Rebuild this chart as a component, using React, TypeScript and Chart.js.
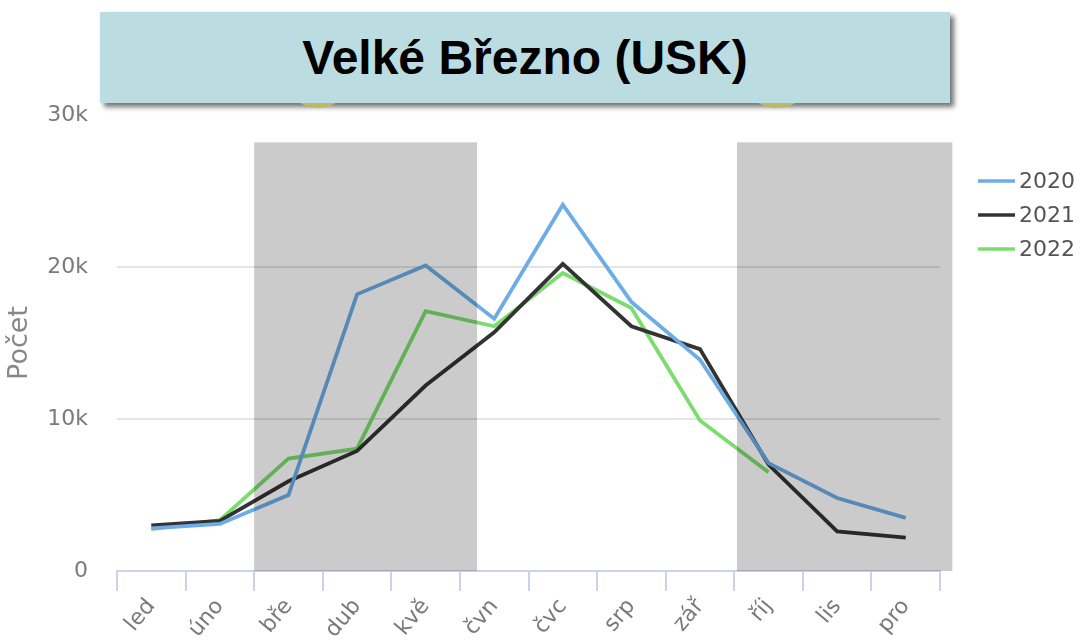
import React, { useEffect, useRef } from "react";
import { Chart, registerables } from "chart.js";

Chart.register(...registerables);

const months = ["led", "úno", "bře", "dub", "kvě", "čvn", "čvc", "srp", "zář", "říj", "lis", "pro"];
const years = ["2020", "2021", "2022"];
const values2020 = [2800, 3100, 5000, 18200, 20100, 16600, 24100, 17700, 13900, 7100, 4800, 3500];
const values2021 = [3000, 3300, 5900, 7900, 12200, 15700, 20200, 16100, 14600, 7000, 2600, 2200];
const values2022: (number | null)[] = [2750, 3350, 7400, 8050, 17100, 16100, 19600, 17300, 9900, 6500, null, null];
const yTicks = [0, 10000, 20000, 30000];
const seriesColors = ["#6CADE6", "#333333", "#7DDC6E"];

// shaded periods in category-index units (start, end) and value top
const bandStarts = [1.5, 8.54];
const bandEnds = [4.75, 11.68];
const bandTop = 28200;

const FONT = "'DejaVu Sans', sans-serif";

const bandPlugin = {
  id: "bands",
  afterDatasetsDraw(chart: any) {
    const { ctx, scales } = chart;
    const x = scales.x;
    const y = scales.y;
    ctx.save();
    ctx.fillStyle = "rgba(0,0,0,0.205)";
    for (let i = 0; i < bandStarts.length; i++) {
      const x0 = x.getPixelForValue(bandStarts[i]);
      const x1 = x.getPixelForValue(bandEnds[i]);
      const y0 = y.getPixelForValue(bandTop);
      const y1 = y.getPixelForValue(0);
      ctx.fillRect(x0, y0, x1 - x0, y1 - y0);
    }
    ctx.restore();
  },
};

const legendPlugin = {
  id: "customLegend",
  afterDraw(chart: any) {
    const { ctx } = chart;
    ctx.save();
    chart.data.datasets.forEach((ds: any, i: number) => {
      const cy = 181 + i * 34;
      ctx.strokeStyle = ds.borderColor;
      ctx.lineWidth = 3.5;
      ctx.beginPath();
      ctx.moveTo(978, cy);
      ctx.lineTo(1015, cy);
      ctx.stroke();
      ctx.fillStyle = "#555555";
      ctx.font = `22px ${FONT}`;
      ctx.textBaseline = "middle";
      ctx.textAlign = "left";
      ctx.fillText(ds.label, 1019, cy + 1);
    });
    ctx.restore();
  },
};

export default function App() {
  const canvasRef = useRef<HTMLCanvasElement | null>(null);

  useEffect(() => {
    document.body.style.margin = "0";
    const canvas = canvasRef.current;
    if (!canvas) return;
    const data = [values2020, values2021, values2022];
    const chart = new Chart(canvas, {
      type: "line",
      data: {
        labels: months,
        datasets: years.map((yr, i) => ({
          label: yr,
          data: data[i],
          borderColor: seriesColors[i],
          backgroundColor: seriesColors[i],
          borderWidth: 3.8,
          pointRadius: 0,
          tension: 0,
          fill: false,
          spanGaps: false,
        })),
      },
      options: {
        animation: false,
        responsive: false,
        maintainAspectRatio: false,
        layout: { padding: { top: 115, right: 141, left: 0, bottom: 0 } },
        plugins: {
          legend: { display: false },
          tooltip: { enabled: false },
          title: { display: false },
        },
        scales: {
          x: {
            offset: true,
            grid: {
              offset: true,
              drawOnChartArea: false,
              drawTicks: true,
              tickLength: 20,
              color: "#C9D3EA",
              lineWidth: 2,
            },
            border: { display: true, color: "#C9D3EA", width: 2 },
            ticks: {
              minRotation: 50,
              maxRotation: 50,
              padding: 3,
              color: "#7a7a7a",
              font: { family: FONT, size: 22 },
            },
            afterFit(scale: any) {
              scale.height = 73;
            },
          },
          y: {
            min: 0,
            max: 30000,
            afterBuildTicks(scale: any) {
              scale.ticks = yTicks.map((v) => ({ value: v }));
            },
            grid: {
              drawTicks: false,
              color: (c: any) =>
                c.tick && (c.tick.value === 10000 || c.tick.value === 20000) ? "#E4E4E4" : "rgba(0,0,0,0)",
              lineWidth: 2,
            },
            border: { display: false },
            ticks: {
              padding: 29,
              color: "#7a7a7a",
              font: { family: FONT, size: 22 },
              callback: (v: any) => (v === 0 ? "0" : `${v / 1000}k`),
            },
            title: {
              display: true,
              text: "Počet",
              color: "#888888",
              font: { family: FONT, size: 27 },
              padding: { top: 4, bottom: 0 },
            },
            afterFit(scale: any) {
              scale.width = 117;
            },
          },
        },
      },
      plugins: [bandPlugin, legendPlugin],
    });
    return () => chart.destroy();
  }, []);

  const boxStyle = { position: "absolute" as const, left: 100, top: 12, width: 850, height: 91 };

  return (
    <div style={{ position: "relative", width: 1081, height: 644, background: "#ffffff", overflow: "hidden" }}>
      <canvas ref={canvasRef} width={1081} height={644} style={{ position: "absolute", left: 0, top: 0 }} />
      <div style={{ ...boxStyle, boxShadow: "4px 4px 5px rgba(0,0,0,0.55)" }} />
      <div
        style={{
          position: "absolute",
          left: 298,
          top: 88,
          width: 40,
          height: 20,
          borderRadius: "50%",
          background: "#BDB866",
        }}
      />
      <div
        style={{
          position: "absolute",
          left: 756,
          top: 88,
          width: 42,
          height: 20,
          borderRadius: "50%",
          background: "#BDB866",
        }}
      />
      <div
        style={{
          ...boxStyle,
          background: "#BBDDE1",
          display: "flex",
          alignItems: "center",
          justifyContent: "center",
          fontFamily: "'Liberation Sans', Arial, sans-serif",
          fontWeight: "bold",
          fontSize: 48,
          color: "#000000",
        }}
      >
        Velké Březno (USK)
      </div>
    </div>
  );
}
